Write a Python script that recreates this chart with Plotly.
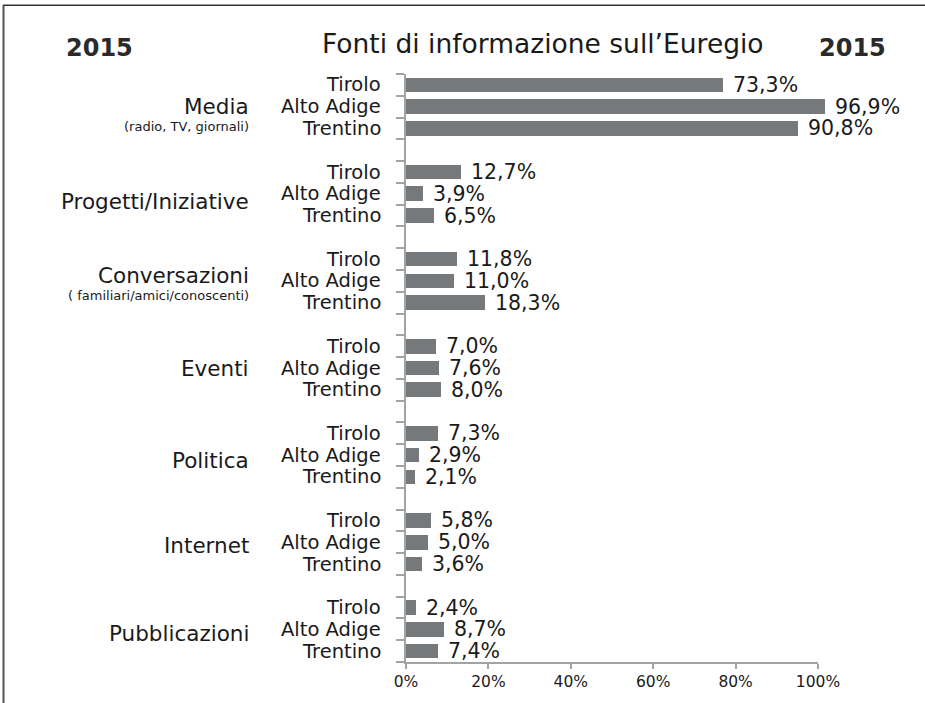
import plotly.graph_objects as go

# ---- data ----
groups = ["Media", "Progetti/Iniziative", "Conversazioni", "Eventi", "Politica", "Internet", "Pubblicazioni"]
group_notes = ["(radio, TV, giornali)", "", "( familiari/amici/conoscenti)", "", "", "", ""]
regions = ["Tirolo", "Alto Adige", "Trentino"]
tirolo = [73.3, 12.7, 11.8, 7.0, 7.3, 5.8, 2.4]
alto_adige = [96.9, 3.9, 11.0, 7.6, 2.9, 5.0, 8.7]
trentino = [90.8, 6.5, 18.3, 8.0, 2.1, 3.6, 7.4]
x_ticks = [0, 20, 40, 60, 80, 100]
x_ticklabels = ["0%", "20%", "40%", "60%", "80%", "100%"]
title = "Fonti di informazione sull’Euregio"
year = "2015"

# ---- layout geometry (pixels) ----
W, H = 925, 703
L, R, T, B = 406, 838, 74, 665   # bar scale: 0..100 spans L..R
R_AXIS = 818                     # printed axis scale ends here
PW, PH = R - L, B - T
FONT = "DejaVu Sans"
BAR = "#76797b"
AX = "#a3a3a3"
TXT = "#1a1a1a"

series = [tirolo, alto_adige, trentino]
n_rows = len(groups) * 4 - 1

ys, xs, texts = [], [], []
for g in range(len(groups)):
    for k in range(3):
        ys.append(4 * g + k + 0.5)
        xs.append(series[k][g])
        texts.append(f"{series[k][g]:.1f}".replace(".", ",") + "%")

fig = go.Figure()
fig.add_trace(go.Bar(
    x=xs, y=ys, orientation="h", width=0.67,
    marker=dict(color=BAR, line=dict(width=0)),
    hoverinfo="skip", showlegend=False,
))
# empty trace that carries the printed percentage axis
fig.add_trace(go.Scatter(x=[None], y=[None], xaxis="x2", yaxis="y",
                         mode="markers", showlegend=False, hoverinfo="skip"))

ann = []
# value labels
for x, y, t in zip(xs, ys, texts):
    ann.append(dict(x=x, y=y, xref="x", yref="y", text=t, showarrow=False,
                    xanchor="left", yanchor="middle", xshift=8,
                    font=dict(family=FONT, size=20.5, color=TXT)))
# row labels
for g in range(len(groups)):
    for k in range(3):
        ann.append(dict(x=0, y=4 * g + k + 0.5, xref="paper", yref="y", text=regions[k],
                        showarrow=False, xanchor="right", yanchor="middle",
                        xshift=-23, font=dict(family=FONT, size=19.5, color=TXT)))
# group labels
group_shift = [0, -8, 5, 0, -5, -3, -4]
for g, name in enumerate(groups):
    note = group_notes[g]
    ann.append(dict(x=0, y=4 * g + 1.5, xref="paper", yref="y", text=name,
                    showarrow=False, xanchor="right", yanchor="middle",
                    xshift=-155, yshift=group_shift[g],
                    font=dict(family=FONT, size=21.5, color=TXT)))
    if note:
        ann.append(dict(x=0, y=4 * g + 1.5, xref="paper", yref="y", text=note,
                        showarrow=False, xanchor="right", yanchor="middle",
                        xshift=-155, yshift=group_shift[g] - 20,
                        font=dict(family=FONT, size=13, color=TXT)))


def px_x(p):
    return (p - L) / PW


def px_y(p):
    return (B - p) / PH


ann.append(dict(x=px_x(543), y=px_y(43), xref="paper", yref="paper", text=title,
                showarrow=False, xanchor="center", yanchor="middle",
                font=dict(family=FONT, size=26.5, color=TXT)))
ann.append(dict(x=px_x(64), y=px_y(48), xref="paper", yref="paper", text=f"<b>{year}</b>",
                showarrow=False, xanchor="left", yanchor="middle",
                font=dict(family=FONT, size=24, color="#2a2a2a")))
ann.append(dict(x=px_x(817), y=px_y(48), xref="paper", yref="paper", text=f"<b>{year}</b>",
                showarrow=False, xanchor="left", yanchor="middle",
                font=dict(family=FONT, size=24, color="#2a2a2a")))

shapes = [
    dict(type="line", xref="paper", yref="paper", x0=px_x(3.5), x1=px_x(3.5),
         y0=px_y(5), y1=px_y(H + 20), line=dict(color="#555555", width=2)),
    dict(type="line", xref="paper", yref="paper", x0=px_x(3), x1=px_x(W + 20),
         y0=px_y(5), y1=px_y(5), line=dict(color="#333333", width=1.5)),
]

fig.update_layout(
    width=W, height=H,
    margin=dict(l=L, r=W - R, t=T, b=H - B, pad=0),
    paper_bgcolor="white", plot_bgcolor="rgba(0,0,0,0)",
    annotations=ann, shapes=shapes,
    bargap=0,
    xaxis=dict(range=[0, 100], domain=[0, 1], visible=False, showgrid=False,
               zeroline=False, fixedrange=True),
    xaxis2=dict(range=[0, 100], domain=[0, (R_AXIS - L) / PW], anchor="y",
                side="bottom", tickvals=x_ticks, ticktext=x_ticklabels,
                showgrid=False, zeroline=False, showline=True, linecolor=AX, linewidth=1.5,
                ticks="outside", ticklen=5, tickcolor=AX, tickwidth=1.5,
                tickfont=dict(family=FONT, size=15.5, color=TXT), fixedrange=True),
    yaxis=dict(range=[n_rows, 0], tickvals=list(range(n_rows + 1)),
               ticktext=[""] * (n_rows + 1),
               showgrid=False, zeroline=False, showline=True, linecolor=AX, linewidth=1.5,
               ticks="outside", ticklen=8, tickcolor=AX, tickwidth=1.5, fixedrange=True),
)

fig.write_html(
    "out.html",
    config={"displayModeBar": False},
    post_script="document.body.style.margin='0';document.body.style.overflow='hidden';",
)
